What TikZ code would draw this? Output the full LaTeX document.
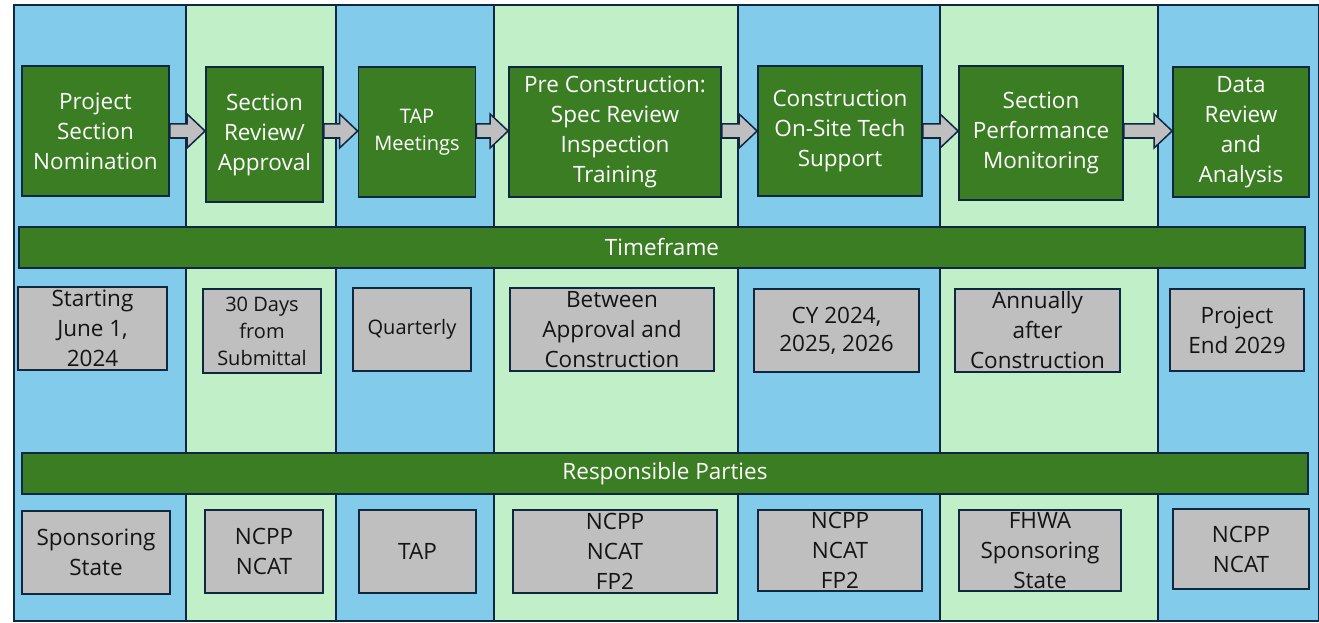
\documentclass[tikz,border=0pt]{standalone}
\usepackage{fontspec}
\setmainfont{Open Sans}
\usetikzlibrary{calc}
\definecolor{colblue}{HTML}{83CBEB}
\definecolor{colgreen}{HTML}{C1F0C8}
\definecolor{dkgreen}{HTML}{3B7D23}
\definecolor{navy}{HTML}{0E2841}
\definecolor{boxgray}{HTML}{BFBFBF}
\definecolor{txtdark}{HTML}{141414}
\newcommand\blockarr[2]{%
  \draw[blockarrow] let \p1=(#1.east|-ay), \p2=(#2.west|-ay) in
    (\x1,\y1+7pt) -- (\x2-18pt,\y1+7pt) -- (\x2-18pt,\y1+17pt) -- (\x2,\y1)
    -- (\x2-18pt,\y1-17pt) -- (\x2-18pt,\y1-7pt) -- (\x1,\y1-7pt) -- cycle;}
\begin{document}
\begin{tikzpicture}[x=1pt,y=-1pt,
  colbox/.style={draw=navy,line width=1.5pt},
  bigfont/.style={font=\fontsize{22.5}{30}\selectfont},
  smallfont/.style={font=\fontsize{20}{27}\selectfont},
  stepbox/.style={draw=navy,line width=1.8pt,fill=dkgreen,text=white,align=center,inner sep=0pt,bigfont},
  timebox/.style={draw=navy,line width=1.8pt,fill=boxgray,text=txtdark,align=center,inner sep=0pt,bigfont},
  barbox/.style={draw=navy,line width=1.8pt,fill=dkgreen,text=white,inner sep=0pt,bigfont,minimum width=1286,minimum height=41},
  blockarrow/.style={draw=navy,line width=1.5pt,fill=boxgray,line join=miter}]

\useasboundingbox[fill=white] (0,0) rectangle (1319,623);

% columns
\foreach \a/\b/\c in {14/186/colblue,186/336/colgreen,336/494/colblue,494/738/colgreen,738/940/colblue,940/1158/colgreen,1158/1318.5/colblue}
  \path[colbox,fill=\c] (\a,5) rectangle (\b,621);

% top process steps
\node[stepbox,minimum width=147,minimum height=130] (s1) at (95.5,131) {Project\\Section\\Nomination};
\node[stepbox,minimum width=117,minimum height=135] (s2) at (264.5,134.5) {Section\\Review/\\Approval};
\node[stepbox,smallfont,minimum width=117,minimum height=130] (s3) at (417,132) {TAP\\Meetings};
\node[stepbox,minimum width=212,minimum height=130] (s4) at (615,132) {Pre Construction:\\Spec Review\\Inspection\\Training};
\node[stepbox,minimum width=164,minimum height=130] (s5) at (840,131) {Construction\\On-Site Tech\\Support};
\node[stepbox,minimum width=164,minimum height=134] (s6) at (1041,133) {Section\\Performance\\Monitoring};
\node[stepbox,minimum width=136,minimum height=130] (s7) at (1241,132) {Data\\Review\\and\\Analysis};

\coordinate (ay) at (0,131);
\blockarr{s1}{s2}
\blockarr{s2}{s3}
\blockarr{s3}{s4}
\blockarr{s4}{s5}
\blockarr{s5}{s6}
\blockarr{s6}{s7}

% timeframe
\node[barbox] (tf) at (662,247.5) {Timeframe};
\node[timebox,minimum width=149,minimum height=83] (t1) at (92.5,328.5) {Starting\\June 1,\\2024};
\node[timebox,smallfont,minimum width=118,minimum height=84] (t2) at (262,331) {30 Days\\from\\Submittal};
\node[timebox,smallfont,minimum width=118,minimum height=83] (t3) at (412,329.5) {Quarterly};
\node[timebox,minimum width=204,minimum height=83] (t4) at (612,329.5) {Between\\Approval and\\Construction};
\node[timebox,font=\fontsize{22.5}{28}\selectfont,minimum width=165,minimum height=83] (t5) at (836.5,330.5) {CY 2024,\\2025, 2026};
\node[timebox,minimum width=165,minimum height=83] (t6) at (1037.5,330.5) {Annually\\after\\Construction};
\node[timebox,minimum width=134,minimum height=82] (t7) at (1237,330) {Project\\End 2029};

% responsible parties
\node[barbox] (rp) at (665,473.5) {Responsible Parties};
\node[timebox,minimum width=148,minimum height=83] (r1) at (96,552.5) {Sponsoring\\State};
\node[timebox,minimum width=118,minimum height=83] (r2) at (264,551.5) {NCPP\\NCAT};
\node[timebox,minimum width=117,minimum height=83] (r3) at (417.5,551.5) {TAP};
\node[timebox,minimum width=204,minimum height=83] (r4) at (615,551.5) {NCPP\\NCAT\\FP2};
\node[timebox,minimum width=164,minimum height=81] (r5) at (840,550.5) {NCPP\\NCAT\\FP2};
\node[timebox,minimum width=162,minimum height=81] (r6) at (1040,550.5) {FHWA\\Sponsoring\\State};
\node[timebox,minimum width=136,minimum height=80] (r7) at (1241,549) {NCPP\\NCAT};
\end{tikzpicture}
\end{document}
